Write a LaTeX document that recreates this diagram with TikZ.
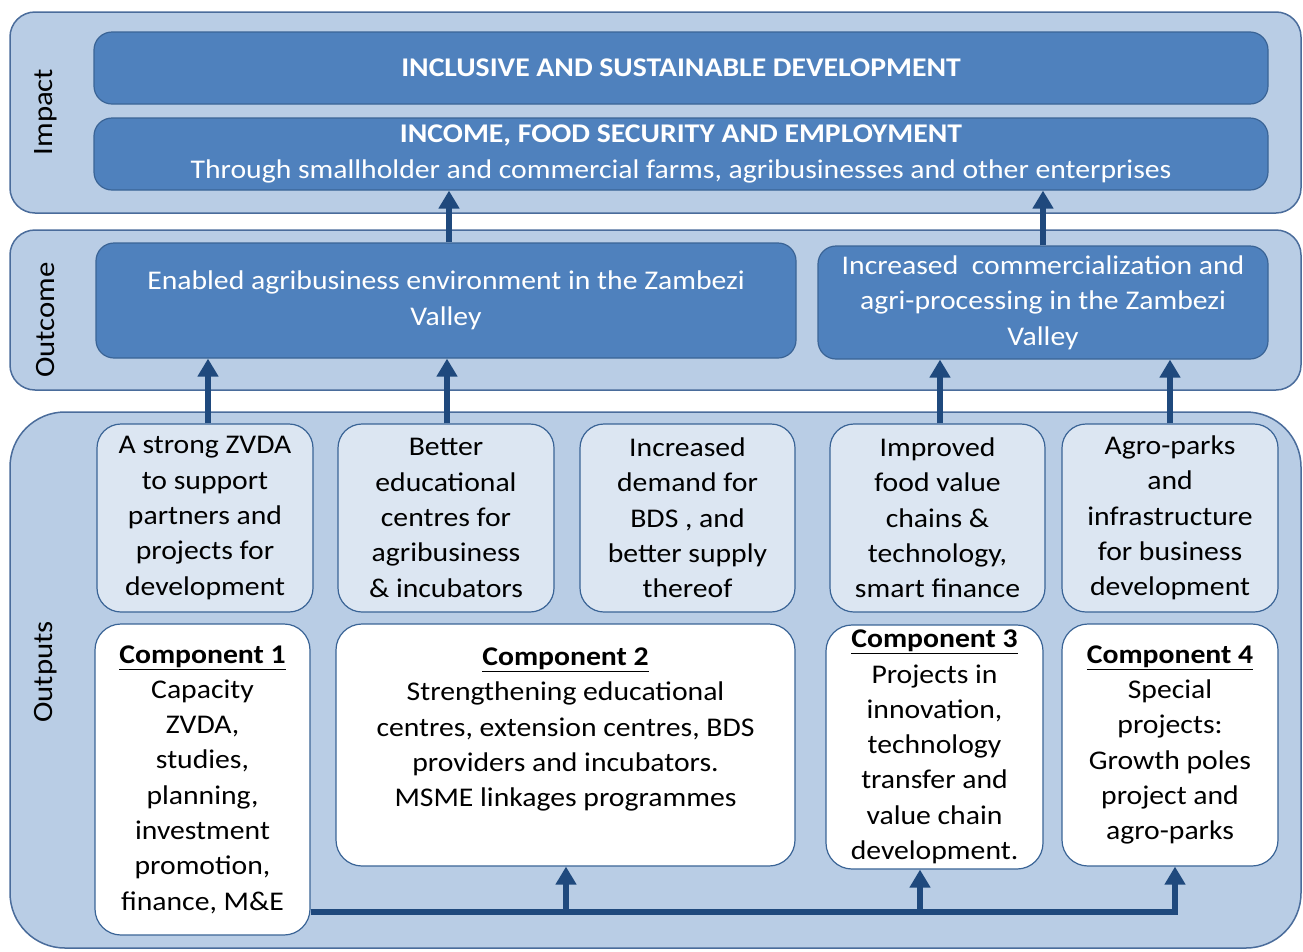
\documentclass[tikz,border=0pt]{standalone}
\usepackage{fontspec}
\setmainfont{Carlito}[FakeStretch=1.1]
\usetikzlibrary{arrows.meta}
\definecolor{panelfill}{HTML}{B9CDE5}
\definecolor{panelline}{HTML}{4A6C9B}
\definecolor{darkfill}{HTML}{4F81BD}
\definecolor{darkline}{HTML}{3A6496}
\definecolor{outfill}{HTML}{DCE6F2}
\definecolor{arrowcol}{HTML}{1F497D}
\tikzset{
  panel/.style={draw=panelline, fill=panelfill, line width=1.5pt, rounded corners=25pt, inner sep=0pt},
  darkbox/.style={draw=darkline, fill=darkfill, line width=1.2pt, rounded corners=18pt, text=white, align=center, inner sep=0pt, font=\fontsize{27}{35.5}\selectfont},
  outbox/.style={draw=darkline, fill=outfill, line width=1.2pt, rounded corners=24pt, text=black, align=center, inner sep=0pt, font=\fontsize{27}{35.3}\selectfont},
  compbox/.style={draw=darkline, fill=white, line width=1.2pt, rounded corners=26pt, text=black, align=center, inner sep=0pt, font=\fontsize{27}{35.3}\selectfont},
  sidelabel/.style={rotate=90, font=\fontsize{28}{34}\selectfont, text=black},
  arr/.style={draw=arrowcol, line width=5.5pt, line join=miter, -{Triangle[length=18pt,width=20pt]}},
}
\begin{document}
\begin{tikzpicture}[x=1pt,y=-1pt]
\useasboundingbox (0,0) rectangle (1303,951);
% panels
\node[panel, minimum width=1291pt, minimum height=201pt] (impact) at (655.5,112.5) {};
\node[panel, minimum width=1291pt, minimum height=160pt] (outcome) at (655.5,310) {};
\node[panel, rounded corners=55pt, minimum width=1291pt, minimum height=536pt] (outputs) at (655.5,680) {};
\node[sidelabel] (limpact) at (46,112) {Impact};
\node[sidelabel] (loutcome) at (46,320) {Outcome};
\node[sidelabel] (loutputs) at (46,672) {Outputs};
% impact boxes
\node[darkbox, minimum width=1174pt, minimum height=72pt] (ib1) at (681,68) {\textbf{INCLUSIVE AND SUSTAINABLE DEVELOPMENT}};
\node[darkbox, minimum width=1174pt, minimum height=72pt] (ib2) at (681,154) {\textbf{INCOME, FOOD SECURITY AND EMPLOYMENT}\\Through smallholder and commercial farms, agribusinesses and other enterprises};
% outcome boxes
\node[darkbox, minimum width=700pt, minimum height=115pt] (oc1) at (446,300.5) {Enabled agribusiness environment in the Zambezi\\Valley};
\node[darkbox, minimum width=450pt, minimum height=113pt] (oc2) at (1043,302.5) {Increased\ \ commercialization and\\agri-processing in the Zambezi\\Valley};
% output boxes
\node[outbox, minimum width=216pt, minimum height=188pt] (ob1) at (205,518) {A strong ZVDA\\to support\\partners and\\projects for\\development};
\node[outbox, minimum width=216pt, minimum height=188pt] (ob2) at (446,518) {Better\\educational\\centres for\\agribusiness\\\& incubators};
\node[outbox, minimum width=215pt, minimum height=188pt] (ob3) at (687.5,518) {Increased\\demand for\\BDS , and\\better supply\\thereof};
\node[outbox, minimum width=215pt, minimum height=188pt] (ob4) at (937.5,518) {Improved\\food value\\chains \&\\technology,\\smart finance};
\node[outbox, minimum width=216pt, minimum height=188pt] (ob5) at (1170,518) {Agro-parks\\and\\infrastructure\\for business\\development};
% components
\node[compbox, minimum width=215pt, minimum height=311pt] (c1) at (202.5,779.5) {\underline{\textbf{Component 1}}\\Capacity\\ZVDA,\\studies,\\planning,\\investment\\promotion,\\finance, M\&E};
\node[compbox, minimum width=459pt, minimum height=242pt] (c2) at (565.5,745) {\underline{\textbf{Component 2}}\\Strengthening educational\\centres, extension centres, BDS\\providers and incubators.\\MSME linkages programmes\\\mbox{}};
\node[compbox, minimum width=217pt, minimum height=244pt] (c3) at (934.5,747) {\underline{\textbf{Component 3}}\\Projects in\\innovation,\\technology\\transfer and\\value chain\\development.};
\node[compbox, minimum width=216pt, minimum height=242pt] (c4) at (1170,745) {\underline{\textbf{Component 4}}\\Special\\projects:\\Growth poles\\project and\\agro-parks};
% arrows outputs -> outcome
\draw[arr] (ob1.north -| 208,0) -- (208,0 |- oc1.south);
\draw[arr] (ob2.north -| 447,0) -- (447,0 |- oc1.south);
\draw[arr] (ob4.north -| 940,0) -- (940,0 |- oc2.south);
\draw[arr] (ob5.north) -- (ob5.north |- oc2.south);
% arrows outcome -> impact
\draw[arr] (oc1.north -| 449,0) -- (449,0 |- ib2.south);
\draw[arr] (oc2.north) -- (oc2.north |- ib2.south);
% bottom bus
\coordinate (busL) at (c1.east |- 0,912);
\coordinate (j2) at (566,912);
\coordinate (j3) at (920,912);
\coordinate (j4) at (1175,912);
\draw[arr] (busL) -- (j4) -- (j4 |- c4.south);
\draw[arr] (j2) -- (j2 |- c2.south);
\draw[arr] (j3) -- (j3 |- c3.south);
\end{tikzpicture}
\end{document}
